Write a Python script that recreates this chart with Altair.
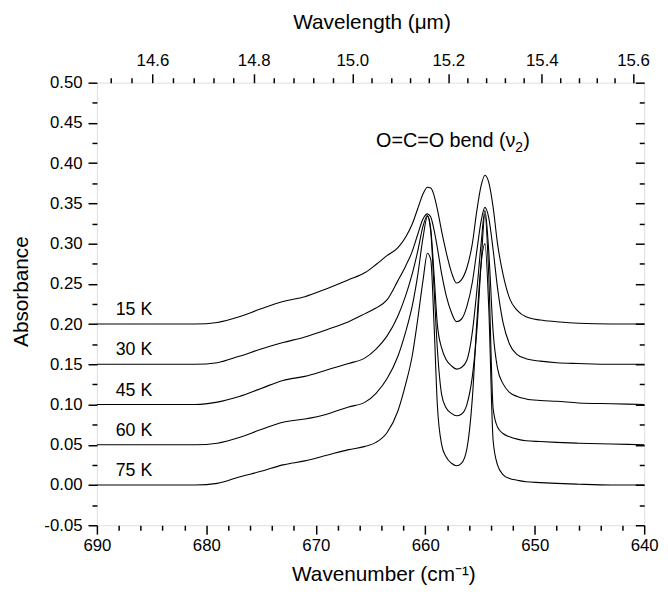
import altair as alt
import pandas as pd

# ---------------- data ----------------
wavenumber = [690, 684, 681, 679, 677, 675, 673, 671, 669, 667, 665.5, 664.5, 663.5, 662.5,
              661.8, 661.2, 660.7, 660.2, 659.8, 659.5, 659.2, 658.9, 658.5, 658.1, 657.6,
              657.15, 656.7, 656.2, 655.7, 655.3, 654.9, 654.55, 654.2, 653.8, 653.4, 652.9,
              652.3, 651.6, 650.8, 649.5, 648, 646, 643, 640]

abs_15K = [.200, .200, .200, .202, .209, .219, .228, .234, .244, .255, .264, .274, .285, .295,
           .308, .324, .343, .362, .370, .369, .360, .343, .315, .290, .264,
           .251, .255, .270, .300, .340, .372, .385, .376, .345, .300, .262,
           .232, .217, .209, .205, .203, .201, .200, .200]

abs_30K = [.150, .150, .150, .152, .160, .169, .177, .184, .193, .203, .213, .220, .230, .254,
           .272, .290, .311, .331, .337, .333, .317, .295, .262, .236, .214,
           .203, .206, .222, .252, .290, .328, .345, .332, .292, .245, .202,
           .175, .162, .157, .154, .152, .151, .150, .150]

abs_45K = [.100, .100, .100, .103, .110, .120, .130, .135, .143, .151, .158, .169, .185, .210,
           .235, .262, .290, .322, .335, .318, .262, .200, .170, .156, .148,
           .144, .146, .155, .190, .240, .300, .341, .290, .190, .145, .126,
           .115, .110, .107, .105, .104, .102, .101, .100]

abs_60K = [.050, .050, .050, .052, .059, .069, .078, .082, .088, .097, .103, .114, .132, .160,
           .190, .222, .260, .308, .334, .315, .245, .170, .112, .096, .089,
           .086, .088, .100, .135, .190, .275, .337, .260, .095, .072, .064,
           .060, .057, .055, .054, .053, .052, .051, .050]

abs_75K = [.000, .000, .000, .002, .010, .017, .025, .030, .037, .044, .048, .053, .065, .092,
           .125, .160, .205, .255, .288, .280, .200, .100, .050, .035, .027,
           .024, .027, .045, .108, .200, .275, .300, .220, .055, .025, .013,
           .008, .006, .004, .003, .002, .001, .000, .000]

temps = ["15 K", "30 K", "45 K", "60 K", "75 K"]
baselines = [0.20, 0.15, 0.10, 0.05, 0.00]
series = [abs_15K, abs_30K, abs_45K, abs_60K, abs_75K]

wn_major = [690, 680, 670, 660, 650, 640]
wn_minor = [688, 686, 684, 682, 678, 676, 674, 672, 668, 666, 664, 662,
            658, 656, 654, 652, 648, 646, 644, 642]
wl_major = [14.6, 14.8, 15.0, 15.2, 15.4, 15.6]
wl_minor = [14.52, 14.56, 14.64, 14.68, 14.72, 14.76, 14.84, 14.88, 14.92, 14.96,
            15.04, 15.08, 15.12, 15.16, 15.24, 15.28, 15.32, 15.36,
            15.44, 15.48, 15.52, 15.56]
y_major = [-0.05, 0.0, 0.05, 0.10, 0.15, 0.20, 0.25, 0.30, 0.35, 0.40, 0.45, 0.50]
y_minor = [-0.025, 0.025, 0.075, 0.125, 0.175, 0.225, 0.275, 0.325, 0.375, 0.425, 0.475]

# annotation pieces: main text, subscript, closing bracket
ann_parts = ["O=C=O bend (\u03bd", "2", ")"]
ann_x = 664.5
ann_y = 0.42

# ---------------- tables ----------------
rows = []
for t, vals in zip(temps, series):
    for i, (w, a) in enumerate(zip(wavenumber, vals)):
        rows.append({"temp": t, "wn": w, "absorbance": a, "idx": i})
df = pd.DataFrame(rows)
lab_df = pd.DataFrame({"temp": temps, "base": baselines})
ann_df = pd.DataFrame({"x": [ann_x], "y": [ann_y], "t0": [ann_parts[0]],
                       "t1": [ann_parts[1]], "t2": [ann_parts[2]]})

F = "Liberation Sans"
xs = alt.Scale(domain=[640, 690], reverse=True, nice=False, zero=False)
ys = alt.Scale(domain=[-0.05, 0.5], nice=False, zero=False)

common = dict(domain=False, grid=False, tickColor="black", tickWidth=1.5,
              labelFont=F, labelFontSize=17, labelColor="black",
              labelFlush=False, labelOverlap=False, labelBound=False,
              titleFont=F, titleFontSize=21, titleFontWeight="normal", titleColor="black")

ax_bottom = alt.Axis(orient="bottom", values=wn_major, format="d", tickSize=9, labelPadding=4,
                     title="Wavenumber (cm\u207b\u00b9)", titleX=290, titleY=50,
                     titleAlign="center", titleBaseline="middle", **common)
ax_bottom_minor = alt.Axis(orient="bottom", values=wn_minor, labels=False, tickSize=5,
                           title="", **common)
ax_top = alt.Axis(orient="top", values=[10000 / v for v in wl_major],
                  labelExpr="format(10000 / datum.value, '.1f')", tickSize=9, labelPadding=4,
                  title="Wavelength (\u03bcm)", titleX=278, titleY=-61,
                  titleAlign="center", titleBaseline="middle", **common)
ax_top_minor = alt.Axis(orient="top", values=[10000 / v for v in wl_minor], labels=False,
                        tickSize=5, title="", **common)
ax_left = alt.Axis(orient="left", values=y_major, tickSize=9, labelPadding=6,
                   labelExpr="datum.value < 0 ? '-' + format(-datum.value, '.2f') : format(datum.value, '.2f')",
                   title="Absorbance", titleAngle=270, titleX=-76, titleY=211,
                   titleAlign="center", titleBaseline="middle", **common)
ax_left_minor = alt.Axis(orient="left", values=y_minor, labels=False, tickSize=5,
                         title="", **common)
ax_right = alt.Axis(orient="right", values=y_major, labels=False, tickSize=9, offset=-9,
                    title="", **common)
ax_right_minor = alt.Axis(orient="right", values=y_minor, labels=False, tickSize=5, offset=-5,
                          title="", **common)

base = alt.Chart(df)


def line_layer(xa, ya, visible):
    return base.mark_line(color="black", strokeWidth=1.1, interpolate="monotone",
                          strokeOpacity=1 if visible else 0).encode(
        x=alt.X("wn:Q", scale=xs, axis=xa),
        y=alt.Y("absorbance:Q", scale=ys, axis=ya),
        detail="temp:N",
        order="idx:Q",
    )


lines = line_layer(ax_bottom, ax_left, True)
minor1 = line_layer(ax_bottom_minor, ax_left_minor, False)
top_right = line_layer(ax_top, ax_right, False)
minor2 = line_layer(ax_top_minor, ax_right_minor, False)

temp_labels = alt.Chart(lab_df).mark_text(
    align="left", baseline="alphabetic", dy=-9, font=F, fontSize=18, color="black"
).encode(
    x=alt.value(19),
    y=alt.Y("base:Q", scale=ys, axis=None),
    text="temp:N",
)

ann_base = alt.Chart(ann_df).encode(
    x=alt.X("x:Q", scale=xs, axis=None),
    y=alt.Y("y:Q", scale=ys, axis=None),
)
ann_main = ann_base.mark_text(align="left", baseline="alphabetic", font=F, fontSize=20,
                              color="black").encode(text="t0:N")
ann_sub = ann_base.mark_text(align="left", baseline="alphabetic", font=F, fontSize=14,
                             color="black", dx=141, dy=5).encode(text="t1:N")
ann_close = ann_base.mark_text(align="left", baseline="alphabetic", font=F, fontSize=20,
                               color="black", dx=149).encode(text="t2:N")

chart = alt.layer(lines, minor1, top_right, minor2, temp_labels,
                  ann_main, ann_sub, ann_close).resolve_axis(
    x="independent", y="independent"
).properties(
    width=554, height=448,
    autosize=alt.AutoSizeParams(type="none"),
    padding={"left": 90, "top": 72, "right": 16, "bottom": 66},
).configure_view(
    stroke="black", strokeWidth=1.5
).configure(background="white")

chart.save("out.html", embed_options={"renderer": "svg", "actions": False})
